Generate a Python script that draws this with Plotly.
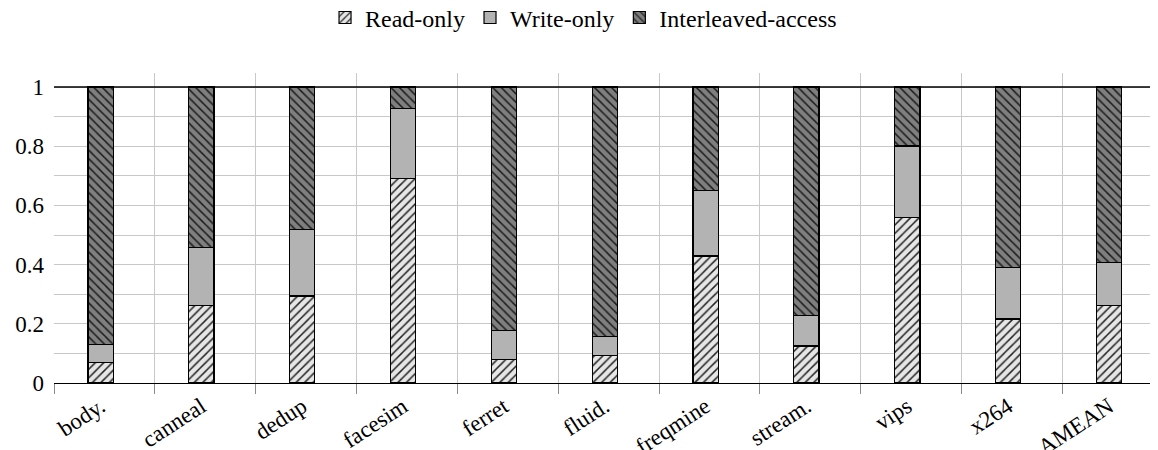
import plotly.graph_objects as go

categories = ["body.", "canneal", "dedup", "facesim", "ferret", "fluid.",
              "freqmine", "stream.", "vips", "x264", "AMEAN"]
read_only = [0.068, 0.262, 0.294, 0.690, 0.079, 0.094, 0.429, 0.125, 0.559, 0.216, 0.261]
write_only = [0.061, 0.195, 0.225, 0.237, 0.098, 0.062, 0.221, 0.102, 0.242, 0.173, 0.145]
interleaved = [0.871, 0.543, 0.481, 0.073, 0.823, 0.844, 0.350, 0.773, 0.199, 0.611, 0.594]
y_ticks = [0, 0.2, 0.4, 0.6, 0.8, 1]
y_tick_labels = ["0", "0.2", "0.4", "0.6", "0.8", "1"]

FONT = '"Liberation Serif", "Times New Roman", serif'
xpos = list(range(len(categories)))
boundaries = [i - 0.461 for i in xpos]

fig = go.Figure()
fig.add_trace(go.Bar(
    x=xpos, y=read_only, name="Read-only", width=0.25,
    marker=dict(color="#e6e6e6", line=dict(color="black", width=1.2),
                pattern=dict(shape="/", fgcolor="#222222", bgcolor="#e6e6e6",
                             size=6, solidity=0.25, fillmode="replace")),
))
fig.add_trace(go.Bar(
    x=xpos, y=write_only, name="Write-only", width=0.25,
    marker=dict(color="#b3b3b3", line=dict(color="black", width=1.2)),
))
fig.add_trace(go.Bar(
    x=xpos, y=interleaved, name="Interleaved-access", width=0.25,
    marker=dict(color="#7f7f7f", line=dict(color="black", width=1.2),
                pattern=dict(shape="\\", fgcolor="#1a1a1a", bgcolor="#7f7f7f",
                             size=6, solidity=0.25, fillmode="replace")),
))

fig.add_shape(type="line", xref="paper", yref="y", x0=0, x1=1, y0=1, y1=1,
              line=dict(color="black", width=1.3), layer="above")

# page body has an 8px default margin: compensate in the figure margins
fig.update_layout(
    width=1158, height=450,
    barmode="stack",
    plot_bgcolor="white", paper_bgcolor="white",
    margin=dict(l=46, r=8, t=65, b=75, autoexpand=False),
    font=dict(family=FONT, size=23, color="black"),
    legend=dict(orientation="h", xref="container", yref="container",
                x=0.497, xanchor="center", y=0.978, yanchor="middle",
                font=dict(family=FONT, size=24, color="black"),
                traceorder="normal", itemwidth=30),
    xaxis=dict(
        range=[-0.462, 10.486],
        tickmode="array", tickvals=xpos, ticktext=categories,
        tickangle=-33, ticks="", showgrid=False, zeroline=False,
        showline=True, linecolor="black", linewidth=1.3,
        tickfont=dict(family=FONT, size=23, color="black"),
        minor=dict(tickmode="array", tickvals=boundaries, showgrid=True,
                   gridcolor="#c8c8c8", gridwidth=1,
                   ticks="outside", ticklen=10, tickcolor="#8a8a8a", tickwidth=1),
    ),
    yaxis=dict(
        range=[0, 1.0473],
        tickmode="array", tickvals=y_ticks, ticktext=y_tick_labels,
        ticks="", showgrid=True, gridcolor="#c8c8c8", gridwidth=1,
        zeroline=False, showline=False,
        ticklabelstandoff=9,
        tickfont=dict(family=FONT, size=23, color="black"),
        minor=dict(tickmode="array", tickvals=[0.1, 0.3, 0.5, 0.7, 0.9],
                   showgrid=True, gridcolor="#c8c8c8", gridwidth=1),
    ),
)

fig.write_html("out.html")
